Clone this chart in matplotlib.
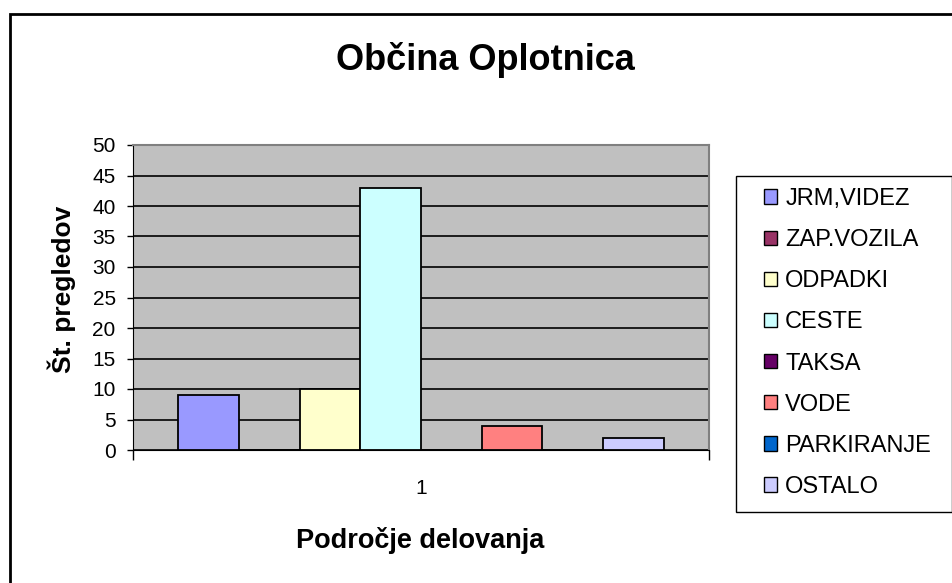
import matplotlib
matplotlib.use("Agg")
import matplotlib.pyplot as plt
from matplotlib.patches import Rectangle
from matplotlib.transforms import blended_transform_factory

plt.rcParams['font.family'] = ['Liberation Sans', 'DejaVu Sans']

series = ["JRM,VIDEZ", "ZAP.VOZILA", "ODPADKI", "CESTE", "TAKSA", "VODE", "PARKIRANJE", "OSTALO"]
values = [9, 0, 10, 43, 0, 4, 0, 2]
colors = ["#9999FF", "#993366", "#FFFFCC", "#CCFFFF", "#660066", "#FF8080", "#0066CC", "#CCCCFF"]
category = "1"
title = "Občina Oplotnica"
xlabel = "Področje delovanja"
ylabel = "Št. pregledov"
yticks = [0, 5, 10, 15, 20, 25, 30, 35, 40, 45, 50]

W, H = 953, 583
fig = plt.figure(figsize=(W / 100, H / 100), dpi=100)

# outer frame
fig.patches.append(Rectangle((10 / W, -0.1), 1.2, (H - 14) / H + 0.1, transform=fig.transFigure,
                             fill=False, edgecolor="black", linewidth=2.0))
# legend frame
fig.patches.append(Rectangle((736 / W, 1 - 512 / H), (952 - 736) / W, (512 - 176) / H,
                             transform=fig.transFigure, fill=False, edgecolor="black", linewidth=1.0))

ax = fig.add_axes([133 / W, 1 - 450 / H, (709 - 133) / W, (450 - 145) / H])
ax.set_facecolor("#C0C0C0")
gap = 1.5
n = len(series)
for i, (s, v, c) in enumerate(zip(series, values, colors)):
    ax.bar(gap / 2 + i + 0.5, v, width=1.0, color=c, edgecolor="black", linewidth=1.3, label=s, zorder=3)

ax.set_xlim(0, n + gap)
ax.set_ylim(0, 50)
ax.set_yticks(yticks)
ax.set_yticklabels([str(t) for t in yticks], fontsize=15)
ax.set_xticks([0, n + gap])
ax.set_xticklabels(["", ""])
ax.tick_params(axis="x", length=7, width=1, direction="out")
ax.tick_params(axis="y", length=4.5, width=1, direction="out", pad=8)
ax.text((n + gap) / 2, 1 - 488 / H, category,
        transform=blended_transform_factory(ax.transData, fig.transFigure),
        ha="center", va="center", fontsize=15)
ax.yaxis.grid(True, color="black", linewidth=1.2, zorder=1)
ax.set_axisbelow(True)
for side in ["top", "right"]:
    ax.spines[side].set_color("#808080")
    ax.spines[side].set_linewidth(1.5)
ax.spines["left"].set_color("black")
ax.spines["bottom"].set_color("black")

fig.text(485 / W, 1 - 60 / H, title, ha="center", va="center", fontsize=26, fontweight="bold")
fig.text(420 / W, 1 - 540 / H, xlabel, ha="center", va="center", fontsize=19.5, fontweight="bold")
fig.text(62 / W, 1 - 289 / H, ylabel, ha="center", va="center", rotation=90, fontsize=19, fontweight="bold")

leg = fig.legend(loc="upper left", bbox_to_anchor=(764 / W, 1 - 188 / H), fontsize=17,
                 frameon=False, handlelength=0.56, handleheight=0.56,
                 handletextpad=0.34, labelspacing=0.81, borderpad=0, borderaxespad=0)
for h in leg.legend_handles:
    h.set_linewidth(1.0)

fig.savefig("out.png", dpi=100)
